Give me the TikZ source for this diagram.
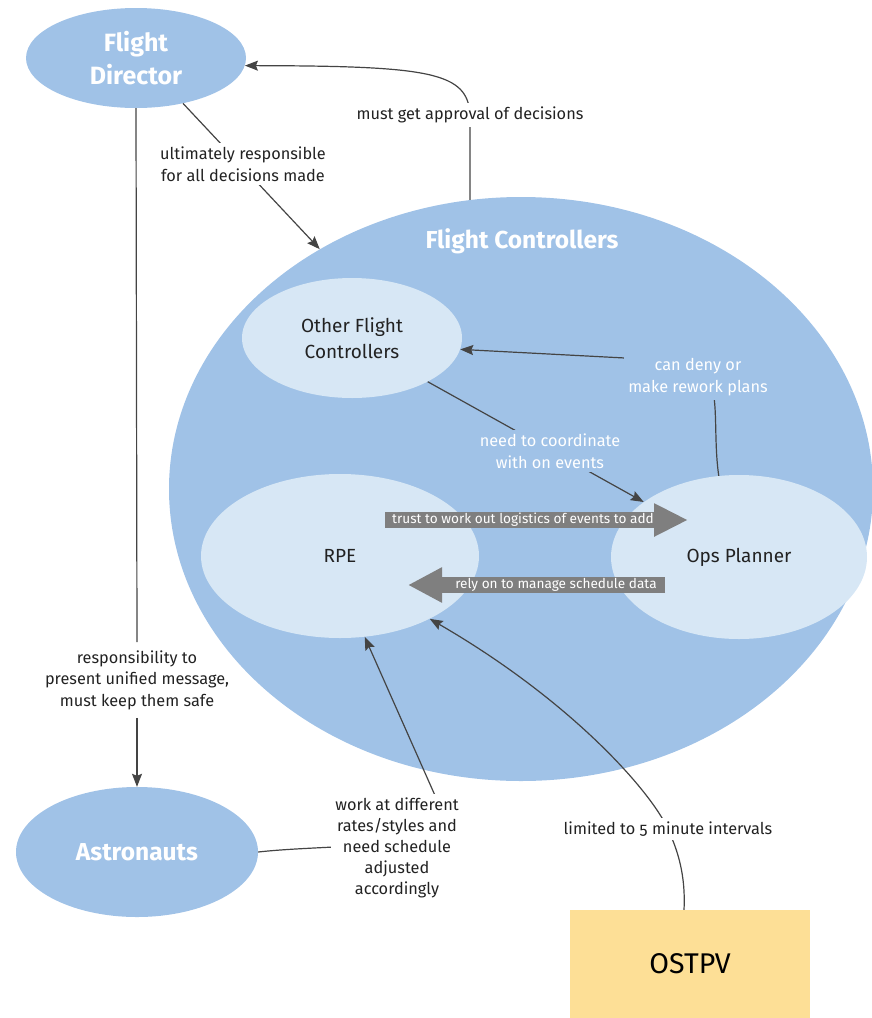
\documentclass[tikz,border=0pt]{standalone}
\usepackage{fontspec}
\setmainfont[Numbers=OldStyle]{Fira Sans}
\usetikzlibrary{shapes.geometric,arrows.meta}
\definecolor{fcblue}{HTML}{A0C2E7}
\definecolor{inner}{HTML}{D7E7F5}
\definecolor{ostpv}{HTML}{FDDF96}
\definecolor{bigarrow}{HTML}{7F7F7F}
\definecolor{linec}{HTML}{444444}
\definecolor{ink}{HTML}{222222}
\begin{document}
\begin{tikzpicture}[x=1pt,y=-1pt,
  bubble/.style={ellipse, fill=fcblue, text=white, align=center, inner sep=0pt,
    font=\fontsize{24.5}{28}\selectfont\bfseries},
  sub/.style={ellipse, fill=inner, text=ink, align=center, inner sep=0pt,
    font=\fontsize{19}{26}\selectfont},
  conn/.style={draw=linec, line width=1.2pt},
  arr/.style={conn, -{Stealth[length=13pt,width=10pt,inset=2pt]}},
  lbl/.style={fill=white, inner sep=4pt, align=center, text=ink,
    font=\fontsize{16.3}{21.5}\selectfont},
  wlbl/.style={lbl, fill=fcblue, text=white},
  fat/.style={draw=bigarrow, line width=16pt},
  fattext/.style={text=white, inner sep=0pt, font=\fontsize{13.6}{15}\selectfont}
]
\useasboundingbox (0,0) rectangle (871,1018);

% main bubbles
\node[bubble, minimum width=704, minimum height=584] (FC) at (521,489) {};
\node[text=white, font=\fontsize{24.5}{28}\selectfont\bfseries] (FCt) at (522,241) {Flight Controllers};
\node[bubble, minimum width=220, minimum height=100, font=\fontsize{25}{33}\selectfont\bfseries] (FD) at (136,58) {Flight\\Director};
\node[bubble, minimum width=242, minimum height=130] (AST) at (137,852) {Astronauts};

% inner roles
\node[sub, minimum width=220, minimum height=120] (OFC) at (352,338) {Other Flight\\Controllers};
\node[sub, minimum width=278, minimum height=164] (RPE) at (340,556) {RPE};
\node[sub, minimum width=256, minimum height=164] (OPS) at (739,557) {Ops Planner};

% tool
\node[rectangle, fill=ostpv, minimum width=240, minimum height=108, text=black,
  font=\fontsize{28.5}{32}\selectfont] (OST) at (690,964) {OSTPV};

% label between director and crew, without backing so it does not cut the big bubble
\node[lbl, fill=none, inner ysep=8pt] (L3) at (137,680) {responsibility to\\present unified message,\\must keep them safe};

% connectors
\draw[arr] (FC.100) .. controls (470,160) .. (470,115)
  .. controls (468,72) and (430,66) .. (FD.-4);
\draw[arr] (FD.-44) -- (FC.130);
\draw[conn] (FD.south) -- (L3.north);
\draw[arr] (L3.south) -- (AST.north);
\draw[arr] (OPS.104) .. controls (712,430) and (722,380) .. (700,370)
  .. controls (680,360) and (650,358) .. (625,358) -- (OFC.-6);
\draw[arr] (OFC.-30) -- (OPS.150);
\draw[arr] (AST.east) .. controls (330,844) and (445,850) .. (445,818) -- (RPE.-73);
\draw[arr] ([xshift=-6pt]OST.north) .. controls (686,870) and (675,845) .. (668,829)
  .. controls (650,790) and (570,700) .. (RPE.-35);

% connector labels
\node[lbl] (L1) at (470,115) {must get approval of decisions};
\node[lbl] (L2) at (243,164) {ultimately responsible\\for all decisions made};
\node[wlbl] (L4) at (698,377) {can deny or\\make rework plans};
\node[wlbl] (L5) at (550,451) {need to coordinate\\with on events};
\node[lbl, font=\fontsize{16.3}{21}\selectfont] (L6) at (397,848) {work at different\\rates/styles and\\need schedule\\adjusted\\accordingly};
\node[lbl] (L7) at (668,829) {limited to 5 minute intervals};

% broad exchange arrows between RPE and Ops Planner
\coordinate (t1s) at (385,520);
\coordinate (t1e) at (688,520);
\draw[fat, -{Triangle[width=31pt,length=34pt]}] (t1s) -- (t1e);
\node[fattext] (T1) at (523,520) {trust to work out logistics of events to add};
\coordinate (t2s) at (665,585);
\coordinate (t2e) at (408,585);
\draw[fat, -{Triangle[width=33pt,length=34pt]}] (t2s) -- (t2e);
\node[fattext] (T2) at (556,585) {rely on to manage schedule data};
\end{tikzpicture}
\end{document}
